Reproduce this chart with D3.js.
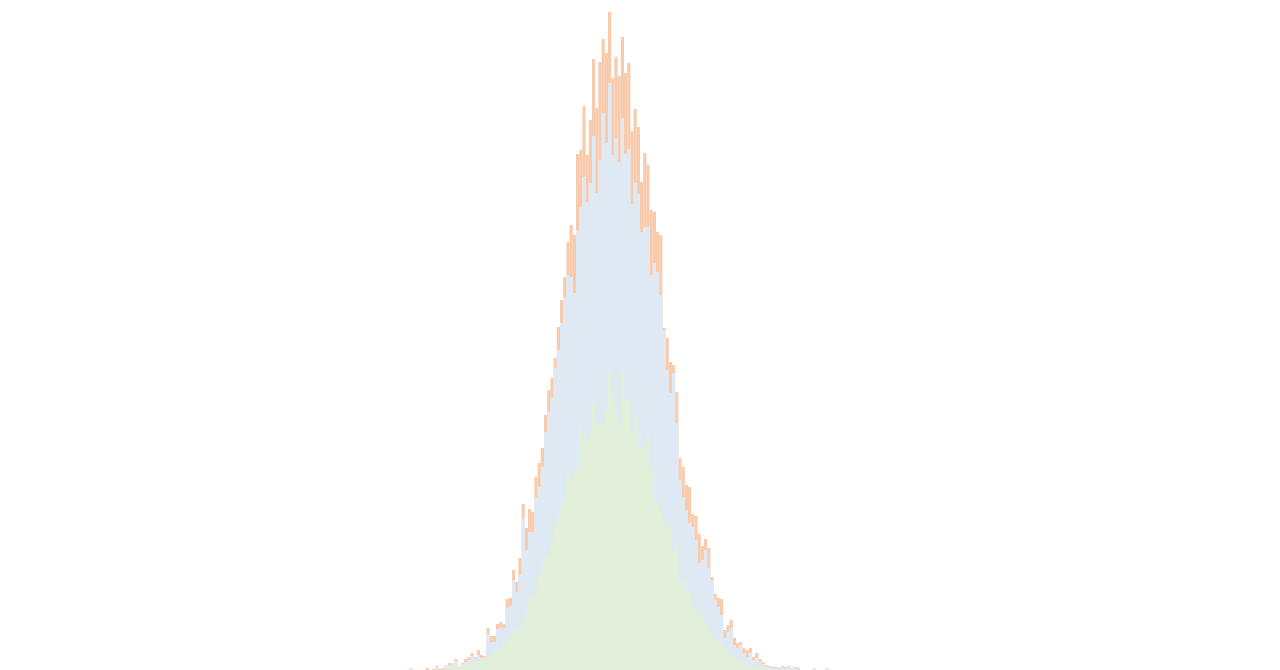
<!DOCTYPE html>
<html>
<head>
<meta charset="utf-8">
<script src="https://cdn.jsdelivr.net/npm/d3@7/dist/d3.min.js"></script>
<style>
  html, body { margin: 0; padding: 0; background: #ffffff; }
  svg { display: block; }
</style>
</head>
<body>
<svg id="chart" width="1280" height="670"></svg>
<script>
// Bin indices (categories): 132 equal-width bins
const binCount = 132;
const bins = d3.range(binCount);

// Series values (counts per bin)
const seriesOrange = [
  2,0,0,0,0,2,0,1,4,1, 2,5,7,7,11,3,7,11,13,17,
  13,20,15,14,42,34,34,46,48,46, 71,72,100,88,112,166,142,161,158,193,
  207,222,255,280,292,312,343,370,393,428, 445,435,516,520,564,515,550,611,562,608,
  631,617,658,592,613,594,633,597,607,539, 561,543,488,517,505,460,458,438,435,342,
  332,308,305,278,212,203,185,183,156,154, 136,124,131,122,93,76,72,71,40,45,
  50,32,27,28,22,20,22,13,17,11, 8,5,4,3,3,2,4,3,4,2,
  3,2,0,0,0,0,2,0,0,0, 2,0
];
const seriesBlue = [
  2,0,0,0,0,0,0,0,3,0, 1,5,5,7,9,2,6,8,10,14,
  12,15,12,11,37,28,28,41,42,42, 62,64,90,78,95,152,120,138,138,173,
  183,203,238,258,272,302,320,347,373,395, 393,377,440,463,493,468,487,534,477,510,
  557,527,587,515,532,508,552,516,521,466, 487,476,438,443,443,395,407,398,375,340,
  300,277,297,247,190,173,160,147,143,130, 107,110,120,102,90,70,63,55,32,38,
  42,25,22,25,17,13,17,10,12,8, 6,4,3,2,2,1,3,2,3,2,
  2,1,0,0,0,0,2,0,0,0, 2,0
];
const seriesGreen = [
  1,0,0,0,0,0,0,0,3,0, 1,1,2,3,9,2,4,5,6,7,
  8,9,12,13,14,15,18,20,22,25, 28,32,37,42,43,48,58,72,74,80,
  95,105,113,113,128,145,153,163,175,198, 188,195,203,246,235,230,237,267,247,245,
  245,257,298,277,263,243,299,268,274,238, 253,223,223,225,233,203,163,168,158,150,
  147,143,117,128,90,90,77,77,63,63, 58,52,48,42,37,33,29,25,20,18,
  15,13,10,9,7,6,5,4,3,3, 2,2,1,0,0,0,0,0,0,0,
  0,0,0,0,0,0,1,0,0,0, 1,0
];

const seriesList = [
  { name: "orange", values: seriesOrange, color: "#F8CBAD" },
  { name: "blue",   values: seriesBlue,   color: "#DEEBF7" },
  { name: "green",  values: seriesGreen,  color: "#E2F0D9" }
];

const width = 1280, height = 670;
const svg = d3.select("#chart");

const x = d3.scaleLinear().domain([0, binCount]).range([409.6, 409.6 + 3.2 * binCount]);
const y = d3.scaleLinear().domain([0, 658]).range([670, 12]);

seriesList.forEach(s => {
  svg.append("g")
    .attr("class", "series-" + s.name)
    .selectAll("rect")
    .data(bins.map(i => ({ i, v: s.values[i] })).filter(d => d.v > 0))
    .join("rect")
    .attr("x", d => x(d.i))
    .attr("width", d => x(d.i + 1) - x(d.i))
    .attr("y", d => y(d.v))
    .attr("height", d => y(0) - y(d.v))
    .attr("fill", s.color);
});
</script>
</body>
</html>
